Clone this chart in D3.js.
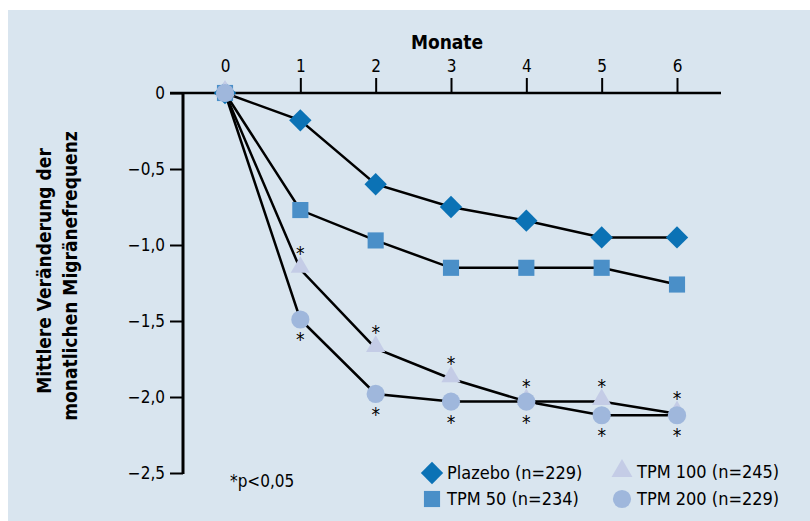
<!DOCTYPE html>
<html>
<head>
<meta charset="utf-8">
<script src="https://cdn.jsdelivr.net/npm/d3@7"></script>
<style>
  body { margin: 0; background: #fff; }
  svg text { font-family: "DejaVu Sans Condensed", "Liberation Sans Narrow", "Open Sans", sans-serif; }
</style>
</head>
<body>
<svg id="chart" width="810" height="521"></svg>
<script>
// months and series values (mean change of monthly migraine frequency)
var months = [0, 1, 2, 3, 4, 5, 6];
var plazebo = [0, -0.18, -0.60, -0.75, -0.84, -0.95, -0.95];
var tpm50 = [0, -0.77, -0.97, -1.15, -1.15, -1.15, -1.26];
var tpm100 = [0, -1.16, -1.68, -1.88, -2.03, -2.03, -2.11];
var tpm200 = [0, -1.49, -1.98, -2.03, -2.03, -2.12, -2.12];
var yTicks = [0, -0.5, -1.0, -1.5, -2.0, -2.5];
var seriesNames = ["Plazebo (n=229)", "TPM 50 (n=234)", "TPM 100 (n=245)", "TPM 200 (n=229)"];
// months with significance star
var sig100 = [1, 2, 3, 4, 5, 6];
var sig200 = [1, 2, 3, 4, 5, 6];

var svg = d3.select("#chart");

svg.append("rect")
  .attr("x", 8).attr("y", 10)
  .attr("width", 802).attr("height", 511)
  .attr("fill", "#d9e5ef");

var x = d3.scaleLinear().domain([0, 6]).range([225, 677]);
var y = d3.scaleLinear().domain([0, -2.5]).range([93, 473]);

var fmt = function (d) {
  if (d === 0) return "0";
  return "\u2212" + d3.format(".1f")(Math.abs(d)).replace(".", ",");
};

/* x axis on top (at y = 0) */
var xAxis = svg.append("g")
  .attr("transform", "translate(0," + y(0) + ")")
  .call(d3.axisTop(x).tickValues(months).tickSize(15).tickPadding(6).tickFormat(d3.format("d")));
xAxis.select(".domain").remove();
xAxis.append("line")
  .attr("x1", 170).attr("x2", 721)
  .attr("stroke", "#000").attr("stroke-width", 2.5);
xAxis.selectAll(".tick line").attr("stroke-width", 2).attr("y2", -15);
xAxis.selectAll(".tick").filter(function (d) { return d === 0; }).select("line").remove();
xAxis.selectAll(".tick text").attr("font-size", 17).attr("fill", "#000");

svg.append("text")
  .attr("x", 447).attr("y", 49)
  .attr("text-anchor", "middle")
  .attr("font-size", 19).attr("font-weight", "bold")
  .text("Monate");

/* y axis */
var yAxis = svg.append("g")
  .attr("transform", "translate(183,0)")
  .call(d3.axisLeft(y).tickValues(yTicks).tickSize(13).tickPadding(5).tickFormat(fmt));
yAxis.select(".domain").remove();
yAxis.append("line")
  .attr("y1", y(0)).attr("y2", y(-2.5) + 1)
  .attr("stroke", "#000").attr("stroke-width", 3);
yAxis.selectAll(".tick line").attr("stroke-width", 2);
yAxis.selectAll(".tick text").attr("font-size", 17).attr("fill", "#000");

svg.append("text")
  .attr("transform", "translate(51,271) rotate(-90)")
  .attr("text-anchor", "middle")
  .attr("font-size", 19).attr("font-weight", "bold")
  .text("Mittlere Veränderung der");
svg.append("text")
  .attr("transform", "translate(77,276) rotate(-90)")
  .attr("text-anchor", "middle")
  .attr("font-size", 19).attr("font-weight", "bold")
  .text("monatlichen Migränefrequenz");

var series = [
  { name: seriesNames[0], values: plazebo, shape: d3.symbolSquare, rot: 45, size: 250, color: "#0b72b5" },
  { name: seriesNames[1], values: tpm50, shape: d3.symbolSquare, rot: 0, size: 260, color: "#4a8fc8" },
  { name: seriesNames[2], values: tpm100, shape: d3.symbolTriangle, rot: 0, size: 160, color: "#c4cce6" },
  { name: seriesNames[3], values: tpm200, shape: d3.symbolCircle, rot: 0, size: 260, color: "#9fb7dc" }
];

var line = d3.line()
  .x(function (d, i) { return x(months[i]); })
  .y(function (d) { return y(d); });

svg.selectAll(".series-line")
  .data(series)
  .enter().append("path")
  .attr("class", "series-line")
  .attr("d", function (s) { return line(s.values); })
  .attr("fill", "none")
  .attr("stroke", "#000")
  .attr("stroke-width", 2.5);

series.forEach(function (s) {
  svg.selectAll(null)
    .data(s.values)
    .enter().append("path")
    .attr("d", d3.symbol().type(s.shape).size(s.size))
    .attr("transform", function (d, i) {
      var dy = s.shape === d3.symbolTriangle ? -2 : 0;
      return "translate(" + x(months[i]) + "," + (y(d) + dy) + ") rotate(" + s.rot + ")";
    })
    .attr("fill", s.color);
});

/* significance stars */
svg.selectAll(null)
  .data(sig100)
  .enter().append("text")
  .attr("x", function (m) { return x(m); })
  .attr("y", function (m) { return y(tpm100[m]) - 9; })
  .attr("text-anchor", "middle")
  .attr("font-size", 19)
  .text("*");
svg.selectAll(null)
  .data(sig200)
  .enter().append("text")
  .attr("x", function (m) { return x(m); })
  .attr("y", function (m) { return y(tpm200[m]) + 27; })
  .attr("text-anchor", "middle")
  .attr("font-size", 19)
  .text("*");

svg.append("text")
  .attr("x", 230).attr("y", 487)
  .attr("font-size", 17)
  .text("*p<0,05");

/* legend */
var legendPos = [[432, 473], [432, 499], [622, 472], [622, 499]];
series.forEach(function (s, i) {
  var g = svg.append("g")
    .attr("transform", "translate(" + legendPos[i][0] + "," + legendPos[i][1] + ")");
  g.append("path")
    .attr("d", d3.symbol().type(s.shape).size(s.shape === d3.symbolTriangle ? 190 : s.size))
    .attr("transform", (s.shape === d3.symbolTriangle ? "translate(0,-1)" : "") + " rotate(" + s.rot + ")")
    .attr("fill", s.color);
  g.append("text")
    .attr("x", 15).attr("y", 6)
    .attr("font-size", 18)
    .text(s.name);
});
</script>
</body>
</html>
